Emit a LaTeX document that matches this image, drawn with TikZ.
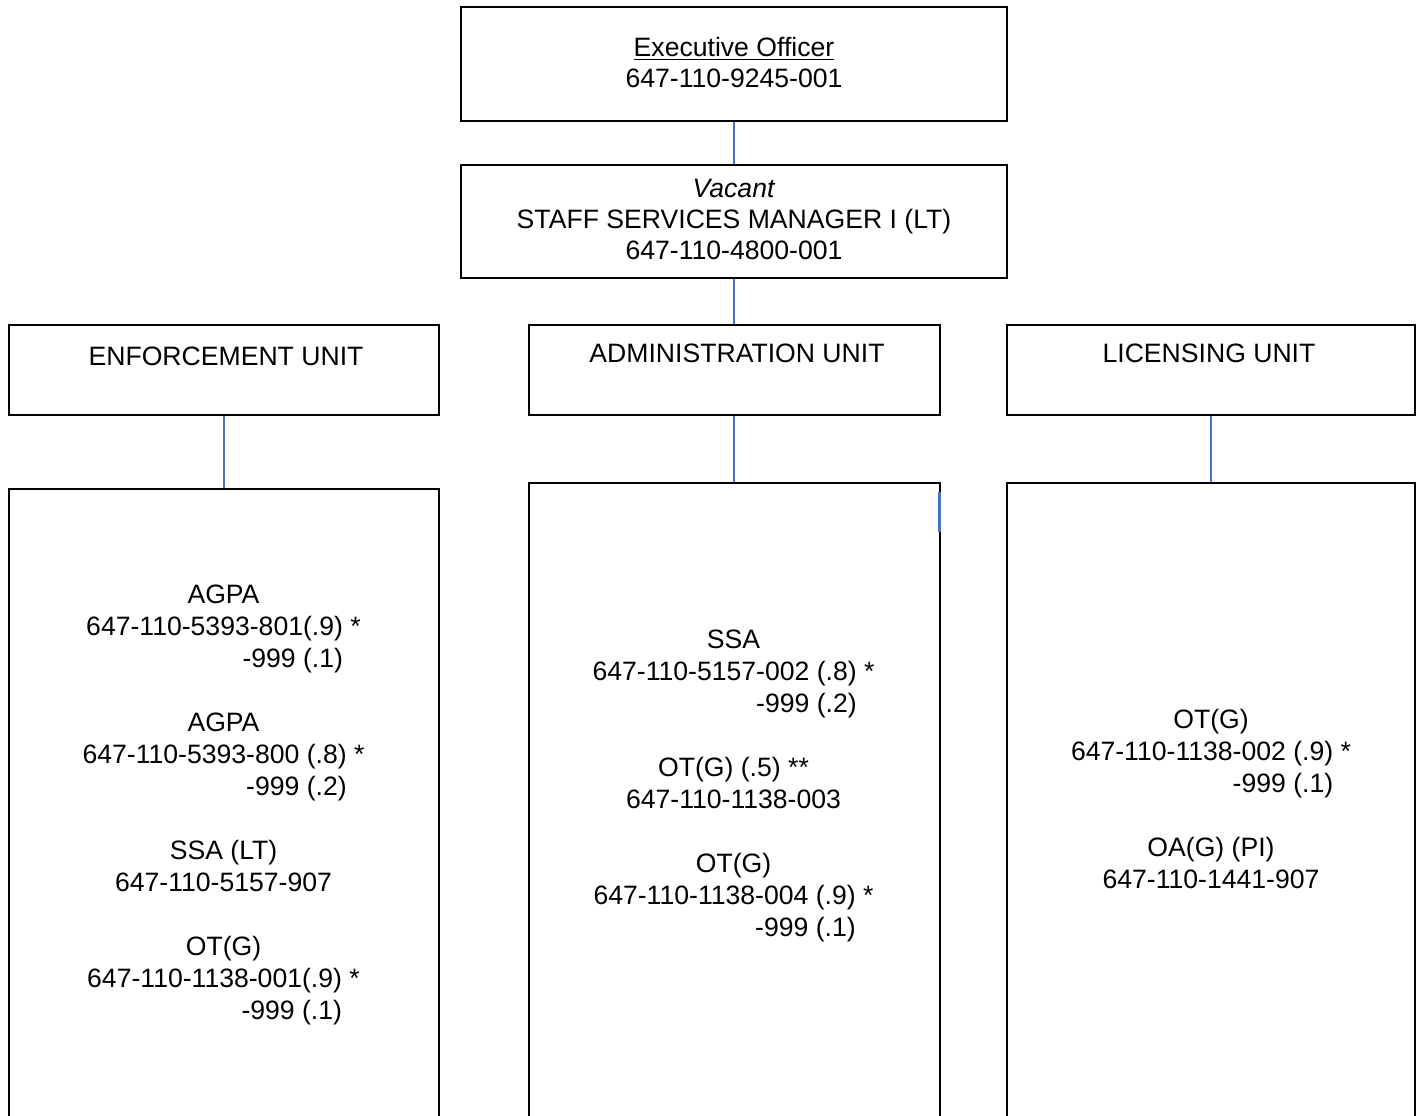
\documentclass[tikz,border=0pt]{standalone}
\usepackage{fontspec}
\setmainfont{Liberation Sans}
\usetikzlibrary{calc}
\definecolor{connblue}{HTML}{4472C4}
\newcommand\posline[2]{\begin{tabular}[t]{@{}r@{}}#1\\#2\phantom{\ *}\end{tabular}}
\begin{document}
\begin{tikzpicture}[x=0.5pt,y={(0pt,-0.5pt)},
  box/.style={draw=black,line width=1pt,inner sep=0pt,outer sep=0pt,rectangle},
  conn/.style={draw=connblue,line width=0.8pt,shorten <=0.5pt,shorten >=0.5pt},
  txt/.style={anchor=base,inner sep=0pt,font=\fontsize{13.3}{16}\selectfont},
  txttop/.style={anchor=base,inner sep=0pt,font=\fontsize{13.3}{15.6}\selectfont}]
\useasboundingbox (0,0) rectangle (1420,1115);
\fill[white] (0,0) rectangle (1420,1115);
\clip (0,0) rectangle (1420,1115);
% boxes
\node[box,minimum width=273pt,minimum height=57pt] (eo) at (734,64) {};
\node[box,minimum width=273pt,minimum height=56.5pt] (ssm) at (734,221.5) {};
\node[box,minimum width=215pt,minimum height=45pt] (enf) at (224,370) {};
\node[box,minimum width=205.5pt,minimum height=45pt] (adm) at (734,370) {};
\node[box,minimum width=204pt,minimum height=45pt] (lic) at (1211,370) {};
\node[box,minimum width=215pt,minimum height=323pt] (enfB) at (224,812) {};
\node[box,minimum width=205.5pt,minimum height=326pt] (admB) at (734,809) {};
\node[box,minimum width=204pt,minimum height=326pt] (licB) at (1211,809) {};
% connectors
\draw[conn] (eo.south) -- (ssm.north);
\draw[conn] (ssm.south) -- (adm.north);
\draw[conn] (enf.south) -- (enfB.north);
\draw[conn] (adm.south) -- (admB.north);
\draw[conn] (lic.south) -- (licB.north);
\coordinate (tick) at ($(admB.north east)+(0,9)$);
\coordinate (tickend) at ($(admB.north east)+(0,49)$);
\draw[draw=connblue,line width=1.1pt] (tick) -- (tickend);
% texts
\node[txttop] (eot) at (734,56) {\begin{tabular}[t]{@{}c@{}}\underline{Executive Officer}\\647-110-9245-001\end{tabular}};
\node[txttop] (ssmt) at (734,197) {\begin{tabular}[t]{@{}c@{}}\textit{Vacant}\\STAFF SERVICES MANAGER I (LT)\\647-110-4800-001\end{tabular}};
\node[txt] (enft) at (226,365) {ENFORCEMENT UNIT};
\node[txt] (admt) at (737,362) {ADMINISTRATION UNIT};
\node[txt] (lict) at (1209,362) {LICENSING UNIT};
\node[txt] (enfBt) at (223.5,603) {\begin{tabular}[t]{@{}c@{}}AGPA\\\posline{647-110-5393-801(.9) *}{-999 (.1)}\\ \mbox{}\\AGPA\\\posline{647-110-5393-800 (.8) *}{-999 (.2)}\\ \mbox{}\\SSA (LT)\\647-110-5157-907\\ \mbox{}\\OT(G)\\\posline{647-110-1138-001(.9) *}{-999 (.1)}\end{tabular}};
\node[txt] (admBt) at (733.5,648) {\begin{tabular}[t]{@{}c@{}}SSA\\\posline{647-110-5157-002 (.8) *}{-999 (.2)}\\ \mbox{}\\OT(G) (.5) **\\647-110-1138-003\\ \mbox{}\\OT(G)\\\posline{647-110-1138-004 (.9) *}{-999 (.1)}\end{tabular}};
\node[txt] (licBt) at (1211,728) {\begin{tabular}[t]{@{}c@{}}OT(G)\\\posline{647-110-1138-002 (.9) *}{-999 (.1)}\\ \mbox{}\\OA(G) (PI)\\647-110-1441-907\end{tabular}};
\end{tikzpicture}
\end{document}
